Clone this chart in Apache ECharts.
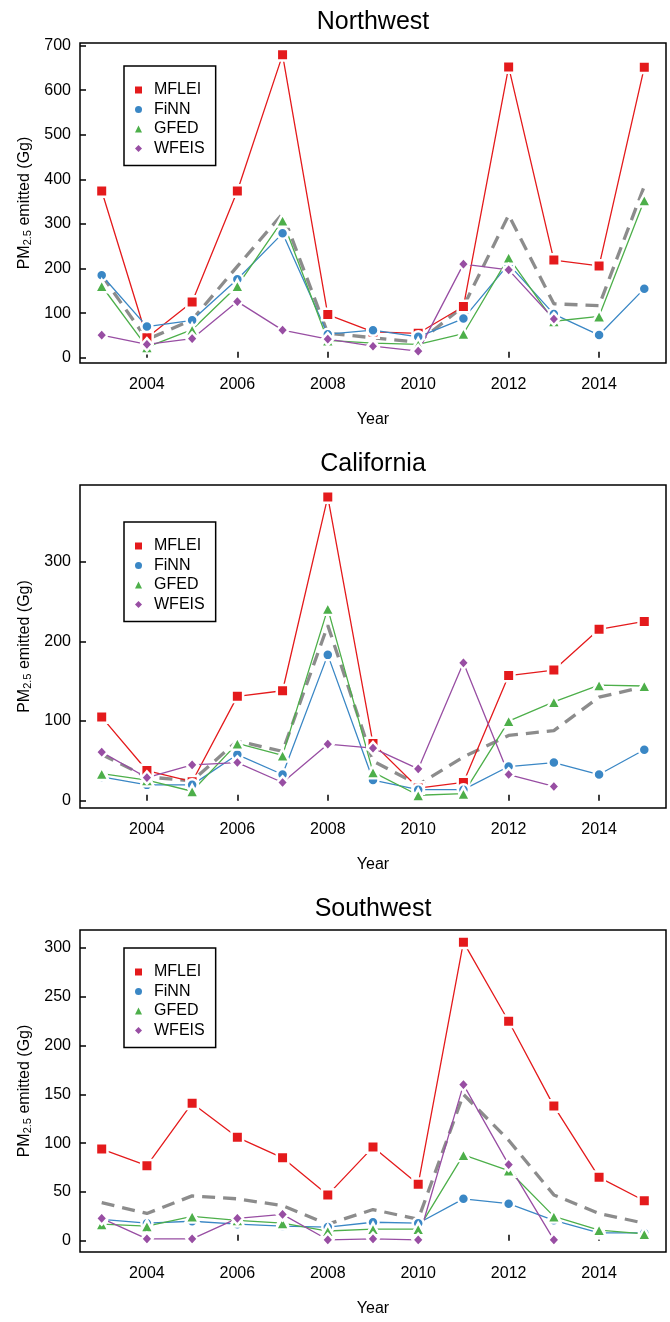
<!DOCTYPE html>
<html>
<head>
<meta charset="utf-8">
<script src="https://cdn.jsdelivr.net/npm/echarts@6/dist/echarts.min.js"></script>
<style>
  html, body { margin: 0; padding: 0; background: #fff; }
  #chart { width: 670px; height: 1322px; }
</style>
</head>
<body>
<div id="chart"></div>
<script>
// years on the x axis
var years = [2003, 2004, 2005, 2006, 2007, 2008, 2009, 2010, 2011, 2012, 2013, 2014, 2015];
var yearTicks = [2004, 2006, 2008, 2010, 2012, 2014];

// Northwest
var nwMflei = [374, 45, 125, 374, 679, 97, 58, 55, 115, 652, 219, 206, 651];
var nwFinn  = [185, 70, 84, 176, 279, 53, 62, 47, 88, 210, 98, 51, 155];
var nwGfed  = [161, 24, 63, 161, 308, 39, 33, 30, 54, 225, 82, 93, 353];
var nwWfeis = [51, 30, 43, 126, 62, 42, 26, 15, 210, 197, 87];
var nwMean  = [185, 41, 85, 205, 323, 55, 45, 35, 115, 320, 121, 117, 385];
var nwTicks = [0, 100, 200, 300, 400, 500, 600, 700];

// California
var caMflei = [105, 38, 24, 131, 138, 381, 72, 16, 23, 157, 164, 215, 225];
var caFinn  = [30, 20, 20, 58, 33, 183, 26, 14, 14, 43, 48, 33, 64];
var caGfed  = [34, 26, 12, 72, 57, 241, 36, 7, 9, 100, 124, 145, 144];
var caWfeis = [61, 29, 45, 48, 23, 71, 66, 40, 173, 33, 18];
var caMean  = [58, 30, 25, 75, 62, 220, 50, 20, 55, 82, 88, 130, 143];
var caTicks = [0, 100, 200, 300];

// Southwest
var swMflei = [94, 77, 141, 106, 85, 47, 96, 58, 306, 225, 138, 65, 41];
var swFinn  = [22, 18, 20, 17, 15, 14, 19, 18, 43, 38, 21, 8, 8];
var swGfed  = [17, 15, 25, 21, 18, 10, 12, 12, 88, 72, 25, 11, 7];
var swWfeis = [23, 2, 2, 23, 27, 1, 2, 1, 160, 78, 1];
var swMean  = [39, 28, 46, 43, 36, 17, 32, 22, 150, 103, 47, 28, 18];
var swTicks = [0, 50, 100, 150, 200, 250, 300];

var FONT = '"Liberation Sans", Arial, sans-serif';
var RED = '#e41a1c', BLUE = '#3a87c5', GREEN = '#4daf4a', PURPLE = '#984ea3', GREY = '#8c8c8c';
var GAP = 2.5; // white ring round markers, like R's type = "b"

function pairs(vals) {
    return vals.map(function (v, i) { return [years[i], v]; });
}

var panels = [
    { title: 'Northwest',  top: 43,  height: 320, min: -11.6, max: 705.6, ticks: nwTicks,
      data: [nwMflei, nwFinn, nwGfed, nwWfeis, nwMean], legendTop: 66 },
    { title: 'California', top: 485, height: 323, min: -9,    max: 396,   ticks: caTicks,
      data: [caMflei, caFinn, caGfed, caWfeis, caMean], legendTop: 522 },
    { title: 'Southwest',  top: 930, height: 322, min: -11.5, max: 318.5, ticks: swTicks,
      data: [swMflei, swFinn, swGfed, swWfeis, swMean], legendTop: 948 }
];

var defs = [
    { name: 'MFLEI', color: RED,    symbol: 'rect',     size: [9, 9] },
    { name: 'FiNN',  color: BLUE,   symbol: 'circle',   size: [8.5, 8.5] },
    { name: 'GFED',  color: GREEN,  symbol: 'triangle', size: [11, 10] },
    { name: 'WFEIS', color: PURPLE, symbol: 'diamond',  size: [9, 10] }
];

var titles = [], grids = [], xAxes = [], yAxes = [], series = [], legends = [];

panels.forEach(function (p, k) {
    titles.push({
        text: p.title, left: 373, top: p.top - 33, textAlign: 'center', padding: 0,
        textStyle: { fontFamily: FONT, fontSize: 25, fontWeight: 'normal', color: '#000' }
    });
    grids.push({
        left: 80, right: 4, top: p.top, height: p.height,
        show: true, borderColor: '#000', borderWidth: 1.5, backgroundColor: 'transparent',
        outerBoundsMode: 'none'
    });
    xAxes.push({
        type: 'value', gridIndex: k, min: 2002.52, max: 2015.48,
        name: 'Year', nameLocation: 'middle', nameGap: 49,
        nameTextStyle: { fontFamily: FONT, fontSize: 16, color: '#000' },
        axisLine: { show: false },
        axisTick: { show: true, inside: true, length: 6, customValues: yearTicks,
                    lineStyle: { color: '#000', width: 1.5 } },
        axisLabel: { customValues: yearTicks, margin: 14, fontFamily: FONT, fontSize: 16, color: '#000',
                     formatter: function (v) { return String(v); } },
        splitLine: { show: false }
    });
    yAxes.push({
        type: 'value', gridIndex: k, min: p.min, max: p.max,
        name: 'PM{sub|2.5} emitted (Gg)', nameLocation: 'middle', nameRotate: 90, nameGap: 47,
        nameTextStyle: {
            fontFamily: FONT, fontSize: 16, color: '#000', lineHeight: 16,
            rich: { sub: { fontFamily: FONT, fontSize: 11, lineHeight: 11, color: '#000',
                           verticalAlign: 'bottom', padding: [10, 0, 0, 0] } }
        },
        axisLine: { show: false },
        axisTick: { show: true, inside: true, length: 6, customValues: p.ticks,
                    lineStyle: { color: '#000', width: 1.5 } },
        axisLabel: { customValues: p.ticks, margin: 9, fontFamily: FONT, fontSize: 16, color: '#000' },
        splitLine: { show: false }
    });

    defs.forEach(function (d, j) {
        series.push({
            name: d.name, type: 'line', xAxisIndex: k, yAxisIndex: k,
            data: pairs(p.data[j]),
            symbol: d.symbol, symbolSize: [d.size[0] + GAP, d.size[1] + GAP],
            itemStyle: { color: d.color, borderColor: '#fff', borderWidth: GAP },
            lineStyle: { color: d.color, width: 1.3 }
        });
    });
    series.push({
        name: 'mean', type: 'line', xAxisIndex: k, yAxisIndex: k,
        data: pairs(p.data[4]),
        symbol: 'none', z: 1,
        lineStyle: { color: GREY, width: 3.3, type: [13, 8] }
    });

    legends.push({
        left: 124, top: p.legendTop, orient: 'vertical',
        selectedMode: false,
        borderColor: '#000', borderWidth: 1.5, borderRadius: 0,
        padding: [16, 11, 9, 11], itemGap: 3.5,
        itemWidth: 7, itemHeight: 7,
        itemStyle: { borderWidth: 0 },
        textStyle: { fontFamily: FONT, fontSize: 16, color: '#000', padding: [0, 0, 0, 7] },
        data: [
            { name: 'MFLEI', icon: 'rect' },
            { name: 'FiNN',  icon: 'circle' },
            { name: 'GFED',  icon: 'triangle' },
            { name: 'WFEIS', icon: 'diamond' }
        ]
    });
});

var chart = echarts.init(document.getElementById('chart'));
chart.setOption({
    animation: false,
    backgroundColor: '#fff',
    title: titles,
    legend: legends,
    grid: grids,
    xAxis: xAxes,
    yAxis: yAxes,
    series: series
});
</script>
</body>
</html>
